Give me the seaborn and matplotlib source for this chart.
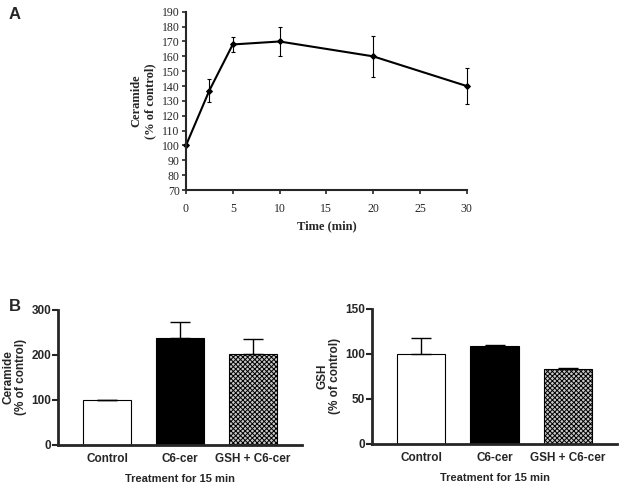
import numpy as np
import pandas as pd
import matplotlib
matplotlib.use("Agg")
import matplotlib.pyplot as plt
import seaborn as sns

# Panel A: ceramide time course
time_min = [0, 2.5, 5, 10, 20, 30]
ceramide_time = [100, 137, 168, 170, 160, 140]
ceramide_time_err = [0, 8, 5, 10, 14, 12]

# Panel B: treatment for 15 min
treatments = ["Control", "C6-cer", "GSH + C6-cer"]
ceramide_pct = [100, 237, 202]
ceramide_err = [0, 35, 33]
gsh_pct = [100, 109, 83]
gsh_err = [18, 1, 1]

sns.set_style("ticks")
plt.rcParams["hatch.linewidth"] = 0.7
plt.rcParams["hatch.color"] = "#505050"

fig = plt.figure(figsize=(6.24, 4.91), dpi=100)

# ---- Panel A ----
serif = "Liberation Serif"
axA = fig.add_axes([0.298, 0.613, 0.450, 0.363])
dfA = pd.DataFrame({"t": time_min, "c": ceramide_time})
sns.lineplot(data=dfA, x="t", y="c", ax=axA, color="black", linewidth=1.5,
             marker="D", markersize=3, markeredgecolor="black", clip_on=False)
axA.errorbar(time_min, ceramide_time, yerr=ceramide_time_err, fmt="none",
             ecolor="black", elinewidth=0.8, capsize=1.5, capthick=0.8,
             clip_on=False)
axA.set_xlim(0, 30)
axA.set_ylim(70, 190)
axA.set_xticks([0, 5, 10, 15, 20, 25, 30])
axA.set_yticks(np.arange(70, 191, 10))
axA.set_xlabel("Time (min)", fontfamily=serif, fontweight="bold", fontsize=9,
               labelpad=4)
axA.set_ylabel("Ceramide\n(% of control)", fontfamily=serif, fontweight="bold",
               fontsize=9, labelpad=4)
for lab in axA.get_xticklabels() + axA.get_yticklabels():
    lab.set_fontfamily(serif)
    lab.set_fontsize(8.5)
axA.tick_params(length=3, width=1.2, pad=1.5)
axA.tick_params(axis="x", pad=6)
for s in ["top", "right"]:
    axA.spines[s].set_visible(False)
for s in ["left", "bottom"]:
    axA.spines[s].set_linewidth(1.5)
fig.text(0.013, 0.971, "A", fontsize=12, fontweight="bold", ha="left", va="center",
         fontfamily="Liberation Sans")


# ---- Panel B ----
def bar_panel(ax, values, errs, ymax, yticks, ylabel):
    df = pd.DataFrame({"treatment": treatments, "value": values})
    sns.barplot(data=df, x="treatment", y="value", ax=ax, width=0.66,
                color="white", edgecolor="black", linewidth=0.8)
    patches = ax.patches
    patches[0].set_facecolor("white")
    patches[1].set_facecolor("black")
    patches[2].set_facecolor("#c8c8c8")
    patches[2].set_hatch("xxxxxxx")
    ax.errorbar(range(len(values)), values, yerr=[[0] * len(errs), errs],
                fmt="none", ecolor="black", elinewidth=1.0, capsize=7, capthick=1.0)
    ax.set_xlim(-0.67, 2.67)
    ax.set_ylim(0, ymax)
    ax.set_yticks(yticks)
    ax.set_xlabel("Treatment for 15 min", fontfamily="Liberation Sans",
                  fontweight="bold", fontsize=8, labelpad=6)
    ax.set_ylabel(ylabel, fontfamily="Liberation Sans", fontweight="bold",
                  fontsize=8.5, labelpad=3, linespacing=1.05)
    for lab in ax.get_xticklabels() + ax.get_yticklabels():
        lab.set_fontfamily("Liberation Sans")
        lab.set_fontweight("bold")
        lab.set_fontsize(8.5)
    ax.tick_params(axis="x", length=0, pad=6)
    ax.tick_params(axis="y", length=4, width=1.5, pad=1)
    for s in ["top", "right"]:
        ax.spines[s].set_visible(False)
    for s in ["left", "bottom"]:
        ax.spines[s].set_linewidth(2)


axB1 = fig.add_axes([0.093, 0.094, 0.391, 0.275])
bar_panel(axB1, ceramide_pct, ceramide_err, 300, [0, 100, 200, 300],
          "Ceramide\n(% of control)")
axB2 = fig.add_axes([0.596, 0.096, 0.393, 0.275])
bar_panel(axB2, gsh_pct, gsh_err, 150, [0, 50, 100, 150],
          "GSH\n(% of control)")
fig.text(0.015, 0.375, "B", fontsize=12, fontweight="bold", ha="left", va="center",
         fontfamily="Liberation Sans")

fig.savefig("out.png", dpi=100)
